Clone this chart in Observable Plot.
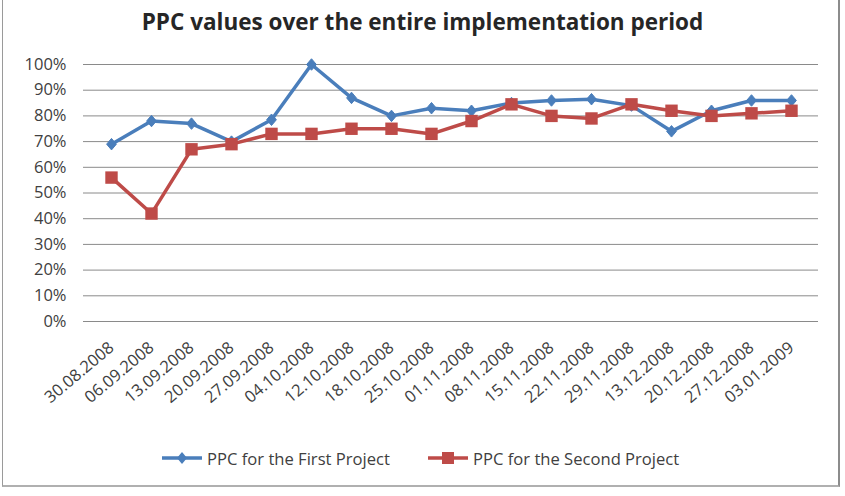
<!DOCTYPE html>
<html>
<head>
<meta charset="utf-8">
<script src="https://cdn.jsdelivr.net/npm/d3@7"></script>
<script src="https://cdn.jsdelivr.net/npm/@observablehq/plot@0.6"></script>
<style>
  html, body { margin: 0; padding: 0; background: #fff; }
  #chart { position: relative; width: 845px; height: 496px; overflow: hidden; font-family: "Open Sans", Lato, sans-serif; color: #404040; }
  #frame { position: absolute; left: 2px; top: -3px; width: 835px; height: 487px; border: 1px solid #9a9a9a; border-right: 2px solid #8c8c8c; border-bottom: 2px solid #b0b0b0; box-sizing: content-box; }
  #title { position: absolute; left: 0; top: 6px; width: 845px; text-align: center; font-weight: bold; font-size: 22.5px; color: #262626; }
  #plot { position: absolute; left: 0; top: 40px; }
  #legend { position: absolute; top: 446px; left: 0; width: 845px; font-size: 16.6px; color: #404040; }
  .item { position: absolute; display: flex; align-items: center; white-space: nowrap; }
  .item svg { margin-right: 5px; }
</style>
</head>
<body>
<div id="chart">
  <div id="frame"></div>
  <div id="title"></div>
  <div id="plot"></div>
  <div id="legend"></div>
</div>
<script>
const title = "PPC values over the entire implementation period";
const dates = ["30.08.2008", "06.09.2008", "13.09.2008", "20.09.2008", "27.09.2008", "04.10.2008",
  "12.10.2008", "18.10.2008", "25.10.2008", "01.11.2008", "08.11.2008", "15.11.2008",
  "22.11.2008", "29.11.2008", "13.12.2008", "20.12.2008", "27.12.2008", "03.01.2009"];
const firstProject = [69, 78, 77, 70, 78.5, 100, 87, 80, 83, 82, 85, 86, 86.5, 84, 74, 82, 86, 86];
const secondProject = [56, 42, 67, 69, 73, 73, 75, 75, 73, 78, 84.5, 80, 79, 84.5, 82, 80, 81, 82];
const seriesNames = ["PPC for the First Project", "PPC for the Second Project"];
const yTicks = [0, 10, 20, 30, 40, 50, 60, 70, 80, 90, 100];

const blue = "#4a7ebb";
const red = "#be4b48";

// Excel-style diamond: a square turned 45°, slightly wider than Plot's built-in one
const diamond = {
  draw(context, size) {
    const h = Math.sqrt(size / Math.PI) * 1.25;
    const w = h * 0.85;
    context.moveTo(0, -h);
    context.lineTo(w, 0);
    context.lineTo(0, h);
    context.lineTo(-w, 0);
    context.closePath();
  }
};

const rows = dates.flatMap((d, i) => [
  {date: d, value: firstProject[i] / 100, series: seriesNames[0]},
  {date: d, value: secondProject[i] / 100, series: seriesNames[1]}
]);
const first = rows.filter(r => r.series === seriesNames[0]);
const second = rows.filter(r => r.series === seriesNames[1]);

document.getElementById("title").textContent = title;

const chart = Plot.plot({
  width: 845,
  height: 400,
  marginLeft: 83,
  marginRight: 27,
  marginTop: 24,
  marginBottom: 119,
  style: {fontFamily: "'Open Sans', Lato, sans-serif", fontSize: "16px", color: "#404040", background: "transparent"},
  x: {type: "point", domain: dates, padding: 0.5, label: null},
  y: {domain: [0, 1], label: null},
  marks: [
    Plot.gridY(yTicks.map(t => t / 100), {stroke: "#8a8a8a", strokeOpacity: 1, strokeWidth: 1}),
    Plot.ruleX([0], {frameAnchor: "left", y1: 0, y2: 1, stroke: "#8a8a8a"}),
    Plot.axisY(yTicks.map(t => t / 100), {tickSize: 0, tickPadding: 17, tickFormat: d3.format(".0%"), fontSize: 16.5, fill: "#404040"}),
    Plot.axisX({tickSize: 0, tickPadding: 24, tickRotate: -40, fontSize: 16.5, fill: "#404040"}),
    Plot.line(first, {x: "date", y: "value", stroke: blue, strokeWidth: 3.5}),
    Plot.dot(first, {x: "date", y: "value", symbol: diamond, r: 4.6, fill: blue, stroke: blue, strokeWidth: 1}),
    Plot.line(second, {x: "date", y: "value", stroke: red, strokeWidth: 3.5}),
    Plot.dot(second, {x: "date", y: "value", symbol: "square", r: 7, fill: red, stroke: null})
  ]
});
document.getElementById("plot").appendChild(chart);

// Legend built below the plot, with line + marker swatches
const legend = d3.select("#legend");
const legendItems = [
  {name: seriesNames[0], color: blue, symbol: "diamond", left: 162},
  {name: seriesNames[1], color: red, symbol: "square", left: 428}
];
for (const it of legendItems) {
  const item = legend.append("div").attr("class", "item").style("left", it.left + "px");
  const sw = item.append("svg").attr("width", 40).attr("height", 24);
  sw.append("line").attr("x1", 0).attr("x2", 40).attr("y1", 12).attr("y2", 12)
    .attr("stroke", it.color).attr("stroke-width", 3.5);
  if (it.symbol === "diamond") {
    sw.append("path").attr("d", "M20,6L25,12L20,18L15,12Z").attr("fill", it.color);
  } else {
    sw.append("rect").attr("x", 14).attr("y", 6).attr("width", 12).attr("height", 12).attr("fill", it.color);
  }
  item.append("span").text(it.name);
}
</script>
</body>
</html>
